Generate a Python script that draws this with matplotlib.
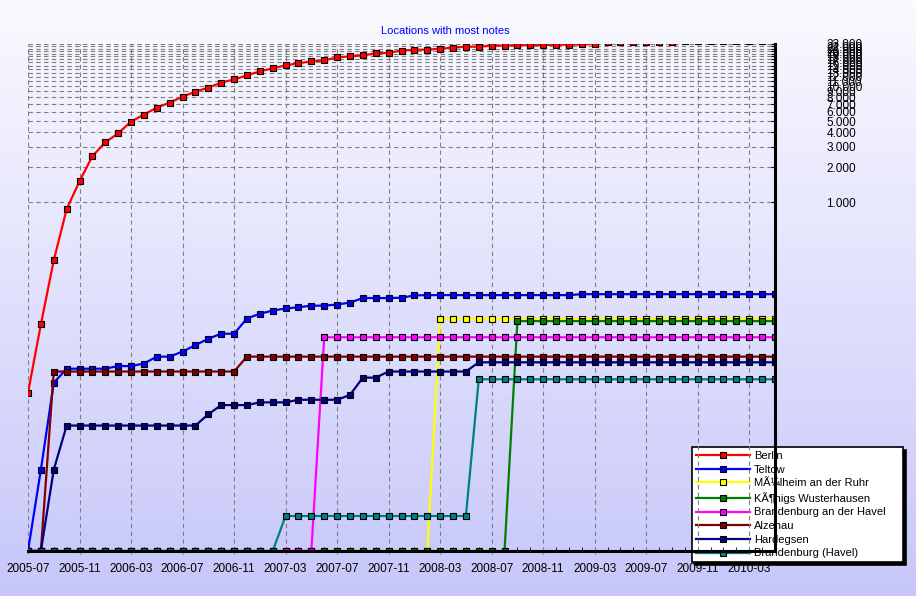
import numpy as np
import pandas as pd
import matplotlib
matplotlib.use('Agg')
import matplotlib.pyplot as plt
from matplotlib.ticker import FixedLocator, FuncFormatter, NullLocator

plt.rcParams['font.family'] = ['Liberation Sans', 'DejaVu Sans']

# monthly points, 2005-07 .. 2010-05
months = pd.date_range('2005-07-01', '2010-05-01', freq='MS').strftime('%Y-%m').tolist()

berlin = [23, 89, 317, 871, 1517, 2490, 3280, 3920, 4940, 5680, 6520, 7200, 8110, 8950,
          9690, 10700, 11400, 12350, 13400, 14200, 15060, 15700, 16300, 16600, 17650,
          18000, 18350, 19100, 19350, 20150, 20550, 20550, 20950, 21400, 21800, 21800,
          22250, 22250, 22400, 22500, 22550, 22650, 22700, 22800, 23000, 23950, 24000,
          24050, 24100, 24100, 24150, 24200, 24200, 24250, 24300, 24300, 24350, 24400, 24400]
teltow = [1, 5, 28, 37, 37, 37, 37, 39, 39, 41, 47, 47, 52, 59, 67, 74, 74, 100, 110, 117,
          122, 125, 129, 129, 132, 137, 150, 150, 150, 151, 158, 159, 159, 159, 159, 159,
          159, 159, 159, 159, 159, 159, 159, 162, 162, 162, 162, 162, 162, 162, 162, 162,
          162, 162, 162, 162, 162, 162, 162]
muelheim = [1, 1, 1, 1, 1, 1, 1, 1, 1, 1, 1, 1, 1, 1, 1, 1, 1, 1, 1, 1, 1, 1, 1, 1, 1, 1,
            1, 1, 1, 1, 1, 1, 99, 99, 99, 99, 99, 99, 99, 99, 99, 99, 99, 99, 99, 99, 99,
            99, 99, 99, 99, 99, 99, 99, 99, 99, 99, 99, 99]
koenigs = [1, 1, 1, 1, 1, 1, 1, 1, 1, 1, 1, 1, 1, 1, 1, 1, 1, 1, 1, 1, 1, 1, 1, 1, 1, 1,
           1, 1, 1, 1, 1, 1, 1, 1, 1, 1, 1, 1, 95, 95, 95, 95, 95, 95, 95, 95, 95, 95, 95,
           95, 95, 95, 95, 95, 95, 95, 95, 95, 95]
brb_adh = [1, 1, 1, 1, 1, 1, 1, 1, 1, 1, 1, 1, 1, 1, 1, 1, 1, 1, 1, 1, 1, 1, 1, 69, 69,
           69, 69, 69, 69, 69, 69, 69, 69, 69, 69, 69, 69, 69, 69, 69, 69, 69, 69, 69, 69,
           69, 69, 69, 69, 69, 69, 69, 69, 69, 69, 69, 69, 69, 69]
alzenau = [1, 1, 35, 35, 35, 35, 35, 35, 35, 35, 35, 35, 35, 35, 35, 35, 35, 47, 47, 47,
           47, 47, 47, 47, 47, 47, 47, 47, 47, 47, 47, 47, 47, 47, 47, 47, 47, 47, 47, 47,
           47, 47, 47, 47, 47, 47, 47, 47, 47, 47, 47, 47, 47, 47, 47, 47, 47, 47, 47]
hardegsen = [1, 1, 5, 12, 12, 12, 12, 12, 12, 12, 12, 12, 12, 12, 15, 18, 18, 18, 19, 19,
             19, 20, 20, 20, 20, 22, 31, 31, 35, 35, 35, 35, 35, 35, 35, 42, 42, 42, 42,
             42, 42, 42, 42, 42, 42, 42, 42, 42, 42, 42, 42, 42, 42, 42, 42, 42, 42, 42, 42]
brb_havel = [1, 1, 1, 1, 1, 1, 1, 1, 1, 1, 1, 1, 1, 1, 1, 1, 1, 1, 1, 1, 2, 2, 2, 2, 2, 2,
             2, 2, 2, 2, 2, 2, 2, 2, 2, 30, 30, 30, 30, 30, 30, 30, 30, 30, 30, 30, 30, 30,
             30, 30, 30, 30, 30, 30, 30, 30, 30, 30, 30]

series = [
    ('Berlin', berlin, '#ff0000'),
    ('Teltow', teltow, '#0000ff'),
    ('MÃ¼lheim an der Ruhr', muelheim, '#ffff00'),
    ('KÃ¶nigs Wusterhausen', koenigs, '#008000'),
    ('Brandenburg an der Havel', brb_adh, '#ff00ff'),
    ('Alzenau', alzenau, '#800000'),
    ('Hardegsen', hardegsen, '#000080'),
    ('Brandenburg (Havel)', brb_havel, '#008080'),
]

W, H = 916, 596
fig = plt.figure(figsize=(W / 100, H / 100), dpi=100)

# gradient background
bg = fig.add_axes([0, 0, 1, 1], zorder=-2)
t = np.linspace(0, 1, 256)[:, None, None]
top = np.array([0.98, 0.98, 1.0])
bot = np.array([0.78, 0.78, 0.98])
bg.imshow(top + (bot - top) * t, aspect='auto', extent=[0, 1, 0, 1])
bg.axis('off')

pos = [28 / W, 45 / H, 747 / W, 507 / H]
x = np.arange(len(months))

# x tick labels live on a back axes so the legend covers them
lab = fig.add_axes(pos, zorder=-1)
lab.patch.set_alpha(0)
lab.set_xlim(0, len(months) - 1)
lab.set_xticks(x[::4])
lab.set_xticklabels(months[::4])
lab.set_yticks([])
lab.tick_params(axis='x', length=4, labelsize=8.5, pad=5, colors='none', labelcolor='black')
for s in lab.spines.values():
    s.set_visible(False)

ax = fig.add_axes(pos, zorder=1)
ax.patch.set_alpha(0)

for name, vals, c in series:
    ax.plot(x, vals, color=c, lw=1.6, marker='s', ms=5, mec='black', mew=0.8, label=name)

ax.set_yscale('log')
ax.set_ylim(1, 23000)
ax.set_xlim(0, len(months) - 1)

ax.xaxis.set_major_locator(FixedLocator(x[::4]))
ax.xaxis.set_minor_locator(FixedLocator(x))

ax.yaxis.tick_right()
ax.yaxis.set_major_locator(FixedLocator(np.arange(1000, 23001, 1000)))
ax.yaxis.set_minor_locator(NullLocator())
ax.yaxis.set_major_formatter(FuncFormatter(lambda v, p: f'{int(round(v)):,}'.replace(',', '.')))

ax.tick_params(axis='x', which='major', length=4, direction='inout', color='#808080',
               labelbottom=False)
ax.tick_params(axis='x', which='minor', length=3, direction='in', color='black')
ax.tick_params(axis='y', which='major', length=3, direction='in', labelsize=8.5, pad=37)

ax.grid(True, which='major', color='#808080', linestyle=(0, (4, 3)), linewidth=0.8)
for s in ['left', 'top']:
    ax.spines[s].set_visible(False)
for s in ['bottom', 'right']:
    ax.spines[s].set_linewidth(2.2)
    ax.spines[s].set_color('black')

fig.text(445 / W, 1 - 31 / H, 'Locations with most notes', color='blue',
         ha='center', va='center', fontsize=8)

handles, labels = ax.get_legend_handles_labels()
leg = fig.legend(handles, labels, loc='upper left',
                 bbox_to_anchor=(692 / W, 1 - 563 / H, 211 / W, 116 / H), mode='expand',
                 frameon=True, fancybox=False, edgecolor='black', framealpha=1,
                 shadow={'color': 'black', 'alpha': 1}, fontsize=8, handlelength=4.9,
                 handletextpad=0.3, labelspacing=0.33, borderpad=0.35, borderaxespad=0)
leg.get_frame().set_linewidth(1.2)
leg.set_zorder(0)

fig.savefig('out.png', dpi=100)
